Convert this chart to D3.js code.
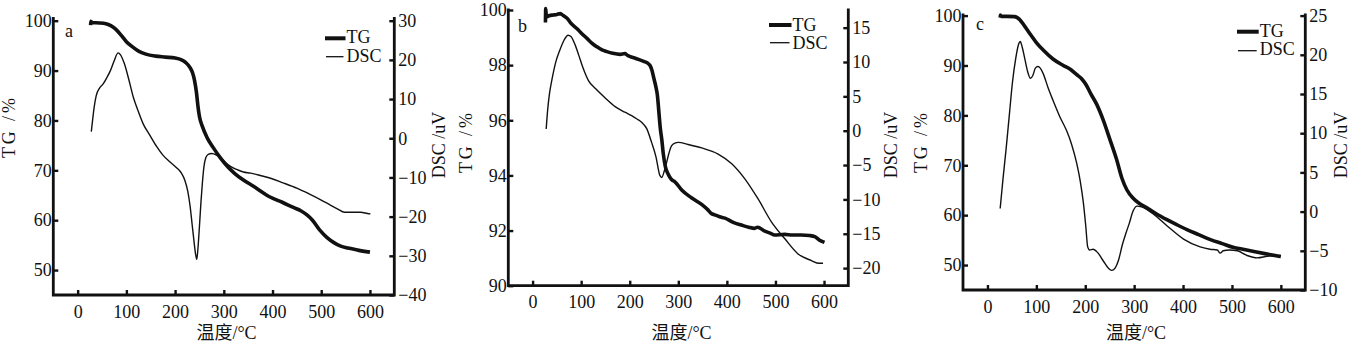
<!DOCTYPE html>
<html><head><meta charset="utf-8">
<script src="https://cdn.jsdelivr.net/npm/d3@7"></script>
<style>
body{margin:0;background:#fff}
svg{display:block}
text{font-family:"Liberation Serif","Times New Roman","Noto Sans CJK SC",serif;fill:#111}
</style>
</head><body>
<svg id="chart" width="1353" height="345"></svg>
<script>
// ---------- data ----------
const xTicks = [0, 100, 200, 300, 400, 500, 600];
const xTitle = "温度/°C";
const tgTitle = "TG /%";
const dscTitle = "DSC /uV";

// panel a
const aTG = [[26.5,99.1],[27,99.9],[30,99.6],[45,99.55],[58,99.4],[68,99.0],[78,98.3],[90,97.0],[100,95.8],[112,94.8],[125,93.9],[140,93.3],[160,92.9],[180,92.7],[200,92.5],[212,92.2],[222,91.6],[230,90.7],[236,89.5],[240,88.0],[244,85.5],[247,82.8],[250,80.8],[256,78.8],[265,76.7],[278,74.6],[293,72.5],[309,70.6],[322,69.4],[338,68.2],[361,66.8],[396,64.6],[420,63.6],[444,62.5],[458,61.9],[470,61.1],[482,60.0],[498,57.9],[512,56.5],[526,55.5],[540,54.8],[555,54.4],[575,54.0],[600,53.6]];
const aDSC = [[28,1.7],[31,5.0],[34,8.0],[38,10.8],[45,12.8],[52,13.8],[60,15.5],[67,17.2],[75,19.8],[83,21.8],[88,21.3],[96,19.0],[105,15.0],[114,10.6],[124,7.0],[134,3.8],[148,0.8],[162,-2.1],[175,-4.3],[189,-6.0],[203,-7.5],[213,-8.9],[220,-10.7],[226,-13.5],[231,-17.5],[235,-22.0],[239,-26.5],[242,-29.5],[244.5,-30.9],[247,-28.0],[250,-22.5],[253,-16.5],[256,-11.5],[259,-7.5],[263,-5.0],[268,-4.1],[275,-3.9],[285,-4.3],[295,-5.2],[309,-6.8],[325,-7.9],[340,-8.6],[355,-8.9],[375,-9.5],[396,-10.2],[420,-11.3],[451,-12.8],[475,-14.2],[499,-15.7],[518,-17.0],[533,-18.0],[548,-18.9],[565,-18.9],[581,-18.9],[595,-19.2],[601,-19.3]];
const aTGTicks = [50, 60, 70, 80, 90, 100];
const aDSCTicks = [-40, -30, -20, -10, 0, 10, 20, 30];

// panel b
const bTG = [[26.5,99.55],[27,100.05],[28.5,99.75],[35,99.8],[43,99.82],[50,99.84],[57,99.87],[63,99.8],[71,99.7],[80,99.5],[91,99.33],[101,99.15],[112,98.97],[122,98.8],[132,98.67],[142,98.56],[153,98.49],[165,98.43],[180,98.39],[190,98.42],[195,98.36],[201,98.31],[210,98.26],[221,98.19],[230,98.13],[237,98.07],[242,97.98],[246,97.8],[250,97.5],[254,97.2],[257,96.9],[260,96.3],[263,95.7],[266,95.3],[269,94.8],[273,94.35],[279,94.05],[286,93.85],[293,93.77],[307,93.47],[327,93.19],[348,92.95],[361,92.75],[368,92.62],[375,92.57],[385,92.5],[396,92.45],[413,92.3],[430,92.2],[445,92.12],[457,92.08],[463,92.12],[478,91.98],[490,91.9],[498,91.84],[519,91.86],[535,91.84],[553,91.84],[570,91.82],[581,91.78],[590,91.66],[601,91.57]];
const bDSC = [[28,0.25],[31,3.0],[35,5.5],[40,7.5],[47,9.8],[57,11.9],[65,13.2],[73,13.9],[79,13.7],[87,12.6],[95,11.0],[103,9.3],[115,7.3],[130,6.1],[149,4.8],[170,3.5],[190,2.7],[204,2.2],[215,1.7],[225,1.2],[235,0.3],[245,-1.7],[254,-3.8],[262,-6.5],[266,-6.8],[271,-5.9],[276,-4.6],[281,-3.2],[286,-2.2],[293,-1.8],[300,-1.7],[320,-2.0],[348,-2.5],[382,-3.4],[410,-4.8],[437,-7.0],[464,-9.9],[492,-13.3],[519,-15.7],[546,-17.9],[574,-18.9],[590,-19.3],[598,-19.3]];
const bTGTicks = [90, 92, 94, 96, 98, 100];
const bDSCTicks = [-20, -15, -10, -5, 0, 5, 10, 15];

// panel c
const cTG = [[26,99.6],[26.5,100.1],[28,99.85],[40,99.85],[55,99.8],[65,99.3],[76,97.9],[88,96.2],[100,94.6],[115,93.0],[134,91.3],[155,90.0],[170,89.2],[182,88.2],[193,87.3],[202,86.1],[212,84.2],[223,82.3],[237,79.0],[250,75.3],[264,71.2],[275,67.4],[285,65.1],[298,63.4],[310,62.4],[326,61.5],[345,60.3],[367,59.1],[387,58.1],[408,57.1],[432,56.1],[456,55.1],[480,54.3],[504,53.5],[520,53.2],[545,52.7],[572,52.2],[600,51.7]];
const cDSC = [[26,0.4],[32,4.3],[38,7.9],[45,12.5],[51,16.4],[58,19.6],[64,21.4],[67,21.7],[71,21.0],[76,19.6],[82,17.9],[88,17.0],[93,17.4],[98,18.3],[103,18.5],[108,18.3],[114,17.6],[124,15.8],[134,14.2],[148,12.1],[162,10.3],[172,8.6],[182,6.3],[190,3.8],[196,1.2],[201,-1.8],[205,-4.5],[209,-4.9],[216,-4.8],[225,-5.2],[237,-6.3],[247,-7.2],[254,-7.5],[261,-7.2],[268,-6.2],[276,-4.2],[283,-2.8],[290,-1.5],[298,0.1],[306,0.7],[315,0.6],[339,-0.3],[367,-1.8],[401,-3.5],[435,-4.5],[455,-4.8],[470,-4.9],[476,-5.3],[482,-5.0],[495,-4.9],[511,-5.0],[531,-5.6],[552,-5.9],[572,-5.7],[600,-5.6]];
const cTGTicks = [50, 60, 70, 80, 90, 100];
const cDSCTicks = [-10, -5, 0, 5, 10, 15, 20, 25];

// ---------- layout ----------
const panels = [
  {label:"a", tg:aTG, dsc:aDSC, tgTicks:aTGTicks, dscTicks:aDSCTicks,
   x0:53.3, x1:394.3, yBot:295, frameTop:17, tgDom:[45,100], tgTop:20.7, dscDom:[-40,30], dscTop:20.7,
   letter:[65,37], leg:{lx:325, tx:346.5, y1:38.3, y2:56.7, b1:43, b2:61.8},
   tgTitle:[9,128], dscTitle:[439,145], xTitleX:226.5},
  {label:"b", tg:bTG, dsc:bDSC, tgTicks:bTGTicks, dscTicks:bDSCTicks,
   x0:508.3, x1:848.3, yBot:285.7, frameTop:8.5, tgDom:[90,100], tgTop:10, dscDom:[-22.56,17.57], dscTop:10,
   letter:[518,32], leg:{lx:769, tx:792.5, y1:25, y2:42.7, b1:30.7, b2:49.3},
   tgTitle:[466,143], dscTitle:[891,145], xTitleX:681.5},
  {label:"c", tg:cTG, dsc:cDSC, tgTicks:cTGTicks, dscTicks:cDSCTicks,
   x0:963, x1:1305.3, yBot:290, frameTop:13.5, tgDom:[45,100], tgTop:15.6, dscDom:[-10,25], dscTop:15.6,
   letter:[976,30], leg:{lx:1237, tx:1259.7, y1:31.7, y2:50.7, b1:36.5, b2:55},
   tgTitle:[920.5,143], dscTitle:[1341,145], xTitleX:1136}
];

const ink = "#111";
const svg = d3.select("#chart");
svg.append("rect").attr("width",1353).attr("height",345).attr("fill","#fff");

panels.forEach(p => {
  const g = svg.append("g");
  const x = d3.scaleLinear().domain([-50, 650]).range([p.x0, p.x1]);
  const yT = d3.scaleLinear().domain(p.tgDom).range([p.yBot, p.tgTop]);
  const yD = d3.scaleLinear().domain(p.dscDom).range([p.yBot, p.dscTop]);

  // axes (ticks inward)
  const bx = g.append("g").attr("transform",`translate(0,${p.yBot})`)
    .call(d3.axisBottom(x).tickValues(xTicks).tickSize(-5).tickSizeOuter(0).tickPadding(8));
  const ly = g.append("g").attr("transform",`translate(${p.x0},0)`)
    .call(d3.axisLeft(yT).tickValues(p.tgTicks).tickSize(-5).tickSizeOuter(0).tickPadding(2));
  const ry = g.append("g").attr("transform",`translate(${p.x1},0)`)
    .call(d3.axisRight(yD).tickValues(p.dscTicks).tickSize(-5).tickSizeOuter(0).tickPadding(5));
  [bx, ly, ry].forEach(a => {
    a.select(".domain").remove();
    a.selectAll(".tick line").attr("stroke", ink).attr("stroke-width", 2.4);
    a.selectAll(".tick text").attr("font-size", 18).attr("fill", ink)
      .style("font-family", '"Liberation Serif", serif');
  });
  bx.selectAll(".tick text").attr("y", 10).attr("dy", "0.71em");
  ly.selectAll(".tick text").attr("x", -1.5);
  ry.selectAll(".tick text").attr("x", 4);

  // frame lines
  const fw = 2.8;
  g.append("path")
    .attr("d", `M${p.x0},${p.frameTop}V${p.yBot}H${p.x1}V${p.frameTop}`)
    .attr("fill","none").attr("stroke", ink).attr("stroke-width", fw).attr("stroke-linejoin","miter");

  // curves
  const lineT = d3.line().x(d => x(d[0])).y(d => yT(d[1])).curve(d3.curveMonotoneX);
  const lineD = d3.line().x(d => x(d[0])).y(d => yD(d[1])).curve(d3.curveMonotoneX);
  g.append("path").datum(p.dsc).attr("d", lineD)
    .attr("fill","none").attr("stroke", ink).attr("stroke-width", 1.4).attr("stroke-linejoin","round");
  g.append("path").datum(p.tg).attr("d", lineT)
    .attr("fill","none").attr("stroke", ink).attr("stroke-width", 3.6).attr("stroke-linejoin","round");

  // panel letter
  g.append("text").attr("x", p.letter[0]).attr("y", p.letter[1]).attr("font-size", 18).text(p.label);

  // legend
  const L = p.leg;
  g.append("line").attr("x1", L.lx).attr("x2", L.tx - 1).attr("y1", L.y1).attr("y2", L.y1)
    .attr("stroke", ink).attr("stroke-width", 4);
  g.append("line").attr("x1", L.lx + 1).attr("x2", L.tx - 3).attr("y1", L.y2).attr("y2", L.y2)
    .attr("stroke", ink).attr("stroke-width", 1.3);
  g.append("text").attr("x", L.tx).attr("y", L.b1).attr("font-size", 18).text("TG");
  g.append("text").attr("x", L.tx).attr("y", L.b2).attr("font-size", 18).text("DSC");

  // axis titles
  g.append("text").attr("transform", `translate(${p.tgTitle[0]},${p.tgTitle[1]}) rotate(-90)`)
    .attr("text-anchor","middle").attr("dominant-baseline","central").attr("font-size", 18)
    .attr("textLength", 60).attr("lengthAdjust", "spacing").text(tgTitle);
  g.append("text").attr("transform", `translate(${p.dscTitle[0]},${p.dscTitle[1]}) rotate(-90)`)
    .attr("text-anchor","middle").attr("dominant-baseline","central").attr("font-size", 18).text(dscTitle);
  g.append("text").attr("x", p.xTitleX).attr("y", 333)
    .attr("text-anchor","middle").attr("dominant-baseline","central").attr("font-size", 18).text(xTitle);
});
</script>
</body></html>
